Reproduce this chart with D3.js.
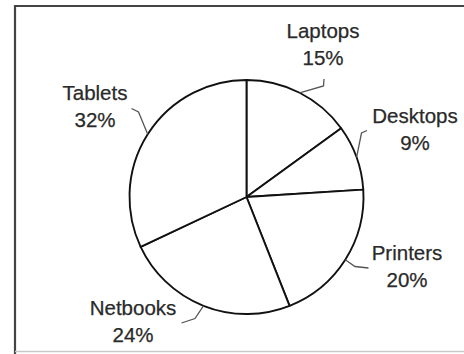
<!DOCTYPE html>
<html>
<head>
<meta charset="utf-8">
<script src="https://cdn.jsdelivr.net/npm/d3@7"></script>
<style>
  html, body { margin: 0; padding: 0; background: #fff; }
  svg { display: block; }
</style>
</head>
<body>
<svg id="chart" width="464" height="354"></svg>
<script>
// data (clockwise from 12 o'clock)
const categories = ['Laptops', 'Desktops', 'Printers', 'Netbooks', 'Tablets'];
const shares = [15, 9, 20, 24, 32];

// label layout: text centre, line 1 baseline, leader elbow and end (absolute px)
const label_layout = [
  { x: 323, y: 38, elbow: [323.5, 86], end: [324, 79] },
  { x: 415, y: 123, elbow: [361.5, 133], end: [367, 130.5] },
  { x: 407, y: 260, elbow: [355, 266.5], end: [368.5, 268] },
  { x: 133, y: 315, elbow: [195, 318.5], end: [181.5, 323] },
  { x: 95, y: 100, elbow: [138.5, 112], end: [131.5, 108.5] },
];

const svg = d3.select('svg#chart');
const cx = 246.5;
const cy = 197;
const radius = 117;

// frame (right edge runs off the picture)
svg.append('path')
  .attr('d', 'M15,354 V6 H470')
  .attr('fill', 'none')
  .attr('stroke', '#444')
  .attr('stroke-width', 2.2);
svg.append('line')
  .attr('x1', 15).attr('x2', 464)
  .attr('y1', 351.5).attr('y2', 351.5)
  .attr('stroke', '#c8c8c8')
  .attr('stroke-width', 1.5);

const pie = d3.pie()
  .sort(null)
  .value(d => d);

const arc = d3.arc()
  .innerRadius(0)
  .outerRadius(radius);

const arcs = pie(shares);

const g = svg.append('g')
  .attr('transform', `translate(${cx},${cy})`);

g.selectAll('path.slice')
  .data(arcs)
  .enter()
  .append('path')
  .attr('class', 'slice')
  .attr('d', arc)
  .attr('fill', '#fff')
  .attr('stroke', '#111')
  .attr('stroke-width', 1.9)
  .attr('stroke-linejoin', 'round');

// leader lines start on the arc at each slice's mid angle
svg.selectAll('path.leader')
  .data(arcs)
  .enter()
  .append('path')
  .attr('class', 'leader')
  .attr('d', (d, i) => {
    const a = (d.startAngle + d.endAngle) / 2;
    const sx = cx + radius * Math.sin(a);
    const sy = cy - radius * Math.cos(a);
    const lay = label_layout[i];
    return `M${sx},${sy} L${lay.elbow[0]},${lay.elbow[1]} L${lay.end[0]},${lay.end[1]}`;
  })
  .attr('fill', 'none')
  .attr('stroke', '#555')
  .attr('stroke-width', 1.3);

const labels = svg.selectAll('text.label')
  .data(arcs)
  .enter()
  .append('text')
  .attr('class', 'label')
  .attr('text-anchor', 'middle')
  .style('font-family', '"Liberation Sans", Arial, sans-serif')
  .style('font-size', '20.5px')
  .attr('fill', '#2a2a2a')
  .attr('stroke', '#2a2a2a')
  .attr('stroke-width', 0.25);

labels.append('tspan')
  .attr('x', (d, i) => label_layout[i].x)
  .attr('y', (d, i) => label_layout[i].y)
  .text((d, i) => categories[i]);

labels.append('tspan')
  .attr('x', (d, i) => label_layout[i].x)
  .attr('y', (d, i) => label_layout[i].y + 27)
  .text(d => `${d.data}%`);
</script>
</body>
</html>
